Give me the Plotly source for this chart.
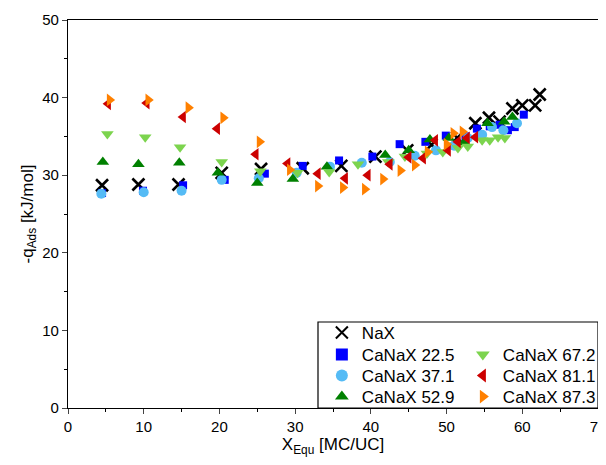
import plotly.graph_objects as go

nax_x = [4.5, 9.3, 14.6, 20.3, 25.5, 31.0, 36.1, 40.6, 44.8, 48.0, 51.4, 53.8, 55.6, 57.0, 58.7, 60.0, 61.7, 62.3]
nax_y = [28.7, 28.8, 28.8, 30.3, 30.8, 30.9, 31.2, 32.4, 33.2, 33.9, 34.8, 36.7, 37.4, 36.9, 38.6, 39.0, 39.0, 40.4]

c225_x = [4.5, 9.9, 15.2, 20.7, 26.0, 31.0, 35.8, 40.2, 43.8, 47.2, 49.9, 52.5, 54.0, 55.7, 57.0, 58.1, 59.0, 60.2]
c225_y = [27.7, 28.0, 28.7, 29.4, 30.2, 31.2, 31.9, 32.4, 34.0, 34.3, 35.1, 35.0, 36.0, 36.3, 36.5, 35.8, 36.2, 37.8]

c371_x = [4.4, 10.0, 15.0, 20.3, 25.2, 30.2, 34.6, 38.8, 42.5, 45.8, 48.6, 51.0, 52.8, 54.7, 56.0, 57.5, 59.3]
c371_y = [27.6, 27.8, 28.0, 29.4, 29.6, 30.3, 31.1, 31.6, 31.7, 32.5, 33.2, 33.8, 34.8, 35.2, 36.2, 35.8, 36.7]

c529_x = [4.6, 9.3, 14.7, 19.8, 25.0, 29.7, 34.2, 41.9, 45.0, 47.8, 50.3, 52.3, 55.4, 57.6, 58.7]
c529_y = [31.7, 31.4, 31.6, 30.3, 29.0, 29.5, 31.1, 32.6, 33.2, 34.6, 34.8, 34.2, 36.7, 36.9, 37.5]

c672_x = [5.2, 10.2, 14.8, 20.3, 25.4, 30.3, 34.5, 38.3, 42.3, 44.5, 47.4, 49.5, 51.5, 52.8, 54.7, 55.7, 56.8, 57.7]
c672_y = [35.3, 34.9, 33.6, 31.7, 30.5, 30.3, 30.4, 31.4, 31.7, 32.4, 32.8, 33.0, 33.5, 33.7, 34.5, 34.5, 34.9, 34.8]

c811_x = [5.3, 10.4, 15.2, 19.7, 24.8, 29.0, 33.0, 36.6, 39.6, 42.5, 45.0, 46.9, 48.5, 50.2, 51.5, 52.7, 53.8]
c811_y = [39.2, 39.3, 37.5, 36.0, 32.7, 31.5, 30.2, 29.6, 30.0, 31.4, 32.3, 32.2, 34.5, 33.2, 34.3, 34.8, 34.9]

c873_x = [5.5, 10.6, 15.9, 20.5, 25.3, 29.3, 33.0, 36.3, 39.2, 41.6, 43.9, 45.8, 47.5, 50.0, 50.9, 52.1]
c873_y = [39.7, 39.7, 38.7, 37.4, 34.3, 30.7, 28.6, 28.4, 28.2, 29.5, 30.6, 31.3, 33.0, 34.0, 35.4, 35.6]

x_ticks = [0, 10, 20, 30, 40, 50, 60, 70]
y_ticks = [0, 10, 20, 30, 40, 50]

series = [
    ("NaX", nax_x, nax_y, "x-thin-open", "#000000", 12),
    ("CaNaX 22.5", c225_x, c225_y, "square", "#0000FF", 8),
    ("CaNaX 37.1", c371_x, c371_y, "circle", "#55BBF5", 10),
    ("CaNaX 52.9", c529_x, c529_y, "triangle-up", "#008000", 11),
    ("CaNaX 67.2", c672_x, c672_y, "triangle-down", "#7CD44E", 11),
    ("CaNaX 81.1", c811_x, c811_y, "triangle-left", "#CC0000", 11),
    ("CaNaX 87.3", c873_x, c873_y, "triangle-right", "#FF8000", 11),
]

# legend slot positions (paper coords): column x, row y (top)
col_x = [0.479, 0.479, 0.479, 0.479, 0.745, 0.745, 0.745]
row_y = [0.2397, 0.1830, 0.1289, 0.0747, 0.1830, 0.1289, 0.0747]

fig = go.Figure()
legend_layouts = {}
for i, (name, xs, ys, sym, col, sz) in enumerate(series):
    marker = dict(symbol=sym, color=col, size=sz)
    if sym.startswith("x"):
        marker["line"] = dict(color=col, width=2.6)
    else:
        marker["line"] = dict(width=0)
    lg = "legend" if i == 0 else f"legend{i + 1}"
    fig.add_trace(go.Scatter(x=xs, y=ys, mode="markers", name=name, marker=marker,
                             legend=lg, showlegend=True))
    legend_layouts[lg] = dict(x=col_x[i], y=row_y[i], xanchor="left", yanchor="top",
                              bgcolor="rgba(0,0,0,0)", font=dict(size=17),
                              itemsizing="constant")

font = "Liberation Sans, Arial, sans-serif"
# body has an 8px default margin in the page; the figure is sized to compensate
fig.update_layout(
    width=598, height=457,
    margin=dict(l=60, r=8, t=12, b=57, autoexpand=False),
    showlegend=True,
    paper_bgcolor="white", plot_bgcolor="white",
    font=dict(family=font, size=15, color="black"),
    shapes=[dict(type="rect", xref="paper", yref="paper", x0=0.4717, x1=1.0, y0=0.0, y1=0.2216,
                 line=dict(color="black", width=1.2), fillcolor="rgba(0,0,0,0)")],
    **legend_layouts,
)
fig.update_xaxes(
    range=[0, 70], tickvals=x_ticks, ticks="outside", ticklen=5, tickwidth=1.2,
    showline=True, linecolor="black", linewidth=1.2, mirror=True, showgrid=False, zeroline=False,
    automargin=False, ticklabeloverflow="allow",
    minor=dict(dtick=5, tick0=0, ticks="outside", ticklen=3, tickcolor="black", showgrid=False),
    title=dict(text="X<sub>Equ</sub> [MC/UC]", font=dict(size=17), standoff=4),
)
fig.update_yaxes(
    range=[0, 50], tickvals=y_ticks, ticks="outside", ticklen=5, tickwidth=1.2,
    showline=True, linecolor="black", linewidth=1.2, mirror=True, showgrid=False, zeroline=False,
    automargin=False,
    minor=dict(dtick=5, tick0=0, ticks="outside", ticklen=3, tickcolor="black", showgrid=False),
    title=dict(text="-q<sub>Ads</sub> [kJ/mol]", font=dict(size=17), standoff=4),
)
fig.write_html("out.html")
